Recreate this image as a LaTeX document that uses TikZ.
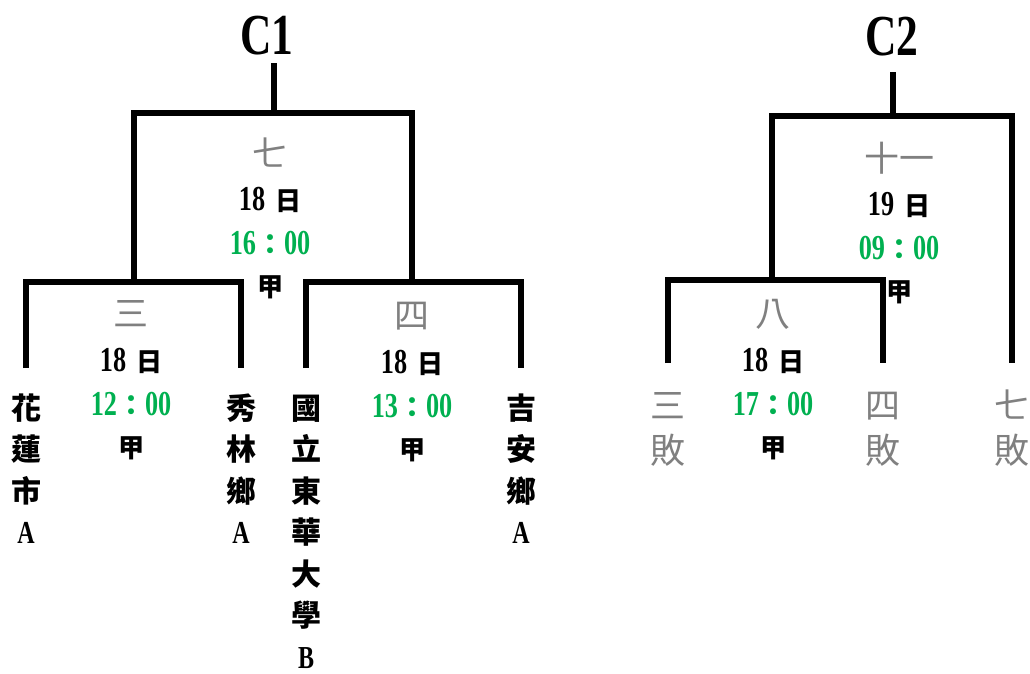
\documentclass[tikz,border=0pt]{standalone}
\usepackage{fontspec}
\setmainfont[FakeStretch=0.75]{Liberation Serif}
\newfontfamily\cjk{Noto Sans CJK TC}
\definecolor{roundgray}{RGB}{128,128,128}
\definecolor{timegreen}{RGB}{0,176,80}
\newcommand{\dayc}{{\cjk\bfseries\fontsize{26}{30}\selectfont 日}}
\newcommand{\tcolon}{{\cjk\bfseries\fontsize{28}{32}\selectfont ：}}
\newcommand{\lat}[1]{{\normalfont\bfseries\fontsize{32}{41.5}\selectfont #1}}
\tikzstyle{bar} = [line width=6pt, line join=miter]
\tikzstyle{title} = [font=\bfseries\fontsize{58}{64}\selectfont, inner sep=0pt]
\tikzstyle{round} = [font=\cjk\fontsize{35}{40}\selectfont, text=roundgray, inner sep=0pt]
\tikzstyle{date} = [font=\bfseries\fontsize{35}{40}\selectfont, inner sep=0pt]
\tikzstyle{time} = [font=\bfseries\fontsize{35}{40}\selectfont, text=timegreen, inner sep=0pt]
\tikzstyle{venue} = [font=\cjk\bfseries\fontsize{26}{30}\selectfont, inner sep=0pt]
\tikzstyle{team} = [font=\cjk\bfseries\fontsize{30}{41.5}\selectfont, align=center, anchor=north, inner sep=0pt, outer ysep=22pt]
\tikzstyle{loser} = [font=\cjk\fontsize{35}{45}\selectfont, text=roundgray, align=center, anchor=north, inner sep=0pt, outer ysep=24pt]
\begin{document}
\begin{tikzpicture}[x=1pt, y=-1pt, node distance=44pt]
    \useasboundingbox (0,0) rectangle (1030,673);

    %C1 Matches
    \node (c1) [title, outer ysep=8pt] at (267,36) {C1};
    \node (r7) [round] at (270,153) {七};
    \node (d7) [date, below of=r7, yshift=-3pt] {18\hspace{10pt}\dayc};
    \node (t7) [time, below of=d7, yshift=1pt] {16\tcolon 00};
    \node (v7) [venue, below of=t7] {甲};

    \node (r3) [round] at (131,314) {三};
    \node (d3) [date, below of=r3, yshift=-3pt] {18\hspace{10pt}\dayc};
    \node (t3) [time, below of=d3, yshift=1pt] {12\tcolon 00};
    \node (v3) [venue, below of=t3] {甲};

    \node (r4) [round] at (412,316) {四};
    \node (d4) [date, below of=r4, yshift=-3pt] {18\hspace{10pt}\dayc};
    \node (t4) [time, below of=d4, yshift=1pt] {13\tcolon 00};
    \node (v4) [venue, below of=t4] {甲};

    %C1 Teams
    \node (hualien) [team] at (26,368) {\strut 花\\蓮\\市\\\lat{A}};
    \node (xiulin) [team] at (241,368) {\strut 秀\\林\\鄉\\\lat{A}};
    \node (ndhu) [team] at (306,368) {\strut 國\\立\\東\\華\\大\\學\\\lat{B}};
    \node (jian) [team] at (521,368) {\strut 吉\\安\\鄉\\\lat{A}};

    %C2 Matches
    \node (c2) [title, outer ysep=16pt] at (892,37) {C2};
    \node (r11) [round] at (899,158) {十一};
    \node (d11) [date, below of=r11, yshift=-3pt] {19\hspace{10pt}\dayc};
    \node (t11) [time, below of=d11, yshift=1pt] {09\tcolon 00};
    \node (v11) [venue, below of=t11] {甲};

    \node (r8) [round] at (773,314) {八};
    \node (d8) [date, below of=r8, yshift=-3pt] {18\hspace{10pt}\dayc};
    \node (t8) [time, below of=d8, yshift=1pt] {17\tcolon 00};
    \node (v8) [venue, below of=t8] {甲};

    %C2 Losers
    \node (lose3) [loser] at (668,363) {\strut 三\\敗};
    \node (lose4) [loser] at (883,363) {\strut 四\\敗};
    \node (lose7) [loser] at (1012,363) {\strut 七\\敗};

    %Brackets
    \coordinate (j3) at (134,282);
    \coordinate (j4) at (412,282);
    \coordinate (j7) at (274,113);
    \coordinate (j8) at (772,280);
    \coordinate (j11) at (893,116);
    \draw [bar] (hualien.north) |- (j3) -| (xiulin.north);
    \draw [bar] (ndhu.north) |- (j4) -| (jian.north);
    \draw [bar] (j3) |- (j7) -| (j4);
    \draw [bar] (j7) -- (j7 |- c1.south);
    \draw [bar] (lose3.north) |- (j8) -| (lose4.north);
    \draw [bar] (j8) |- (j11) -| (lose7.north);
    \draw [bar] (j11) -- (j11 |- c2.south);

\end{tikzpicture}
\end{document}
